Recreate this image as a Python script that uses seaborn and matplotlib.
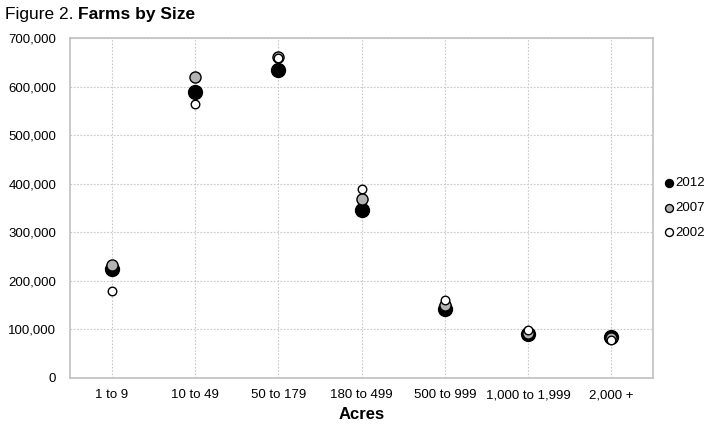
import numpy as np
import pandas as pd
import seaborn as sns
import matplotlib.pyplot as plt

##----------- Data --------------##
acres = ["1 to 9", "10 to 49", "50 to 179", "180 to 499", "500 to 999", "1,000 to 1,999", "2,000 +"]
farms_2012 = [223634, 589549, 634047, 346038, 142555, 89611, 83784]
farms_2007 = [232849, 620283, 660530, 368368, 149713, 92656, 81453]
farms_2002 = [179346, 563772, 658705, 388617, 161552, 99020, 77970]
years = ["2012", "2007", "2002"]

##----------- Plot --------------##
sns.set_style("white")
plt.rcParams['font.family'] = ['Liberation Sans', 'DejaVu Sans']
plt.rcParams['text.color'] = 'black'
plt.rcParams['axes.labelcolor'] = 'black'

df = pd.DataFrame({
    'Acres': acres * 3,
    'Farms': farms_2012 + farms_2007 + farms_2002,
    'Year': np.repeat(years, len(acres)),
})

fig = plt.figure(figsize=(7.17, 4.30), dpi=100)
ax = fig.add_axes([70/717, 52/430, 583/717, 340/430])

styles = {"2012": ("black", 100), "2007": ("#b3b3b3", 64), "2002": ("white", 38)}
for yr in years:
    color, size = styles[yr]
    sns.scatterplot(data=df[df['Year'] == yr], x='Acres', y='Farms', ax=ax,
                    color=color, s=size, edgecolor='black', linewidth=1.0,
                    label=yr, zorder=3)

ax.set_xlim(-0.5, len(acres) - 0.5)
ax.set_ylim(0, 700000)
ax.set_yticks(np.arange(0, 700001, 100000))
ax.set_yticklabels([f"{v:,}" for v in range(0, 700001, 100000)])
ax.grid(True, color='#c8c8c8', linestyle=(0, (1.5, 1.5)), linewidth=0.8)
ax.set_axisbelow(True)
for sp in ax.spines.values():
    sp.set_color('#c0c0c0')
    sp.set_linewidth(1.2)
ax.tick_params(axis='both', length=0, labelsize=9.5, labelcolor='black')
ax.tick_params(axis='x', pad=8)
ax.tick_params(axis='y', pad=10)
ax.set_xlabel("Acres", fontsize=12, fontweight='bold', labelpad=4, color='black')
ax.set_ylabel("")

leg = ax.legend(loc='center left', bbox_to_anchor=(0.995, 0.5), frameon=False,
                fontsize=9.5, handletextpad=0.0, labelspacing=0.95,
                handlelength=1.0)
for h in leg.legend_handles:
    h.set_sizes([33])
for t in leg.get_texts():
    t.set_color('black')

t1 = fig.text(5/717, 1 - 15/430, "Figure 2.", fontsize=12.5, va='center', ha='left')
fig.canvas.draw()
bb = t1.get_window_extent()
fig.text((bb.x1 + 4)/717, 1 - 15/430, "Farms by Size", fontsize=12.5,
         fontweight='bold', va='center', ha='left')

plt.savefig('out.png', dpi=100)
plt.close()
